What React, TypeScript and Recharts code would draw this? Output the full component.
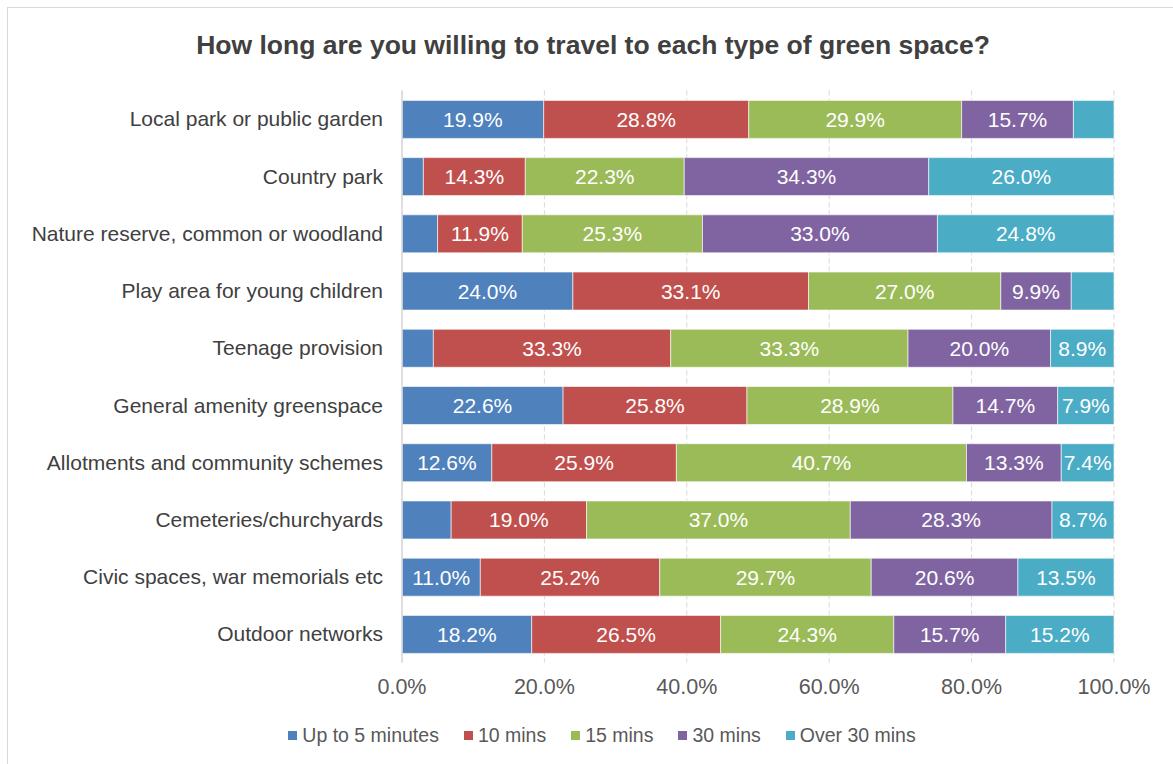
import React from "react";
import { BarChart, Bar, XAxis, YAxis, CartesianGrid, LabelList } from "recharts";

const categories = [
  "Local park or public garden",
  "Country park",
  "Nature reserve, common or woodland",
  "Play area for young children",
  "Teenage provision",
  "General amenity greenspace",
  "Allotments and community schemes",
  "Cemeteries/churchyards",
  "Civic spaces, war memorials etc",
  "Outdoor networks",
];

const upTo5 = [19.9, 3.0, 5.0, 24.0, 4.4, 22.6, 12.6, 6.9, 11.0, 18.2];
const mins10 = [28.8, 14.3, 11.9, 33.1, 33.3, 25.8, 25.9, 19.0, 25.2, 26.5];
const mins15 = [29.9, 22.3, 25.3, 27.0, 33.3, 28.9, 40.7, 37.0, 29.7, 24.3];
const mins30 = [15.7, 34.3, 33.0, 9.9, 20.0, 14.7, 13.3, 28.3, 20.6, 15.7];
const over30 = [5.7, 26.0, 24.8, 6.0, 8.9, 7.9, 7.4, 8.7, 13.5, 15.2];

const xTicks = [0, 0.2, 0.4, 0.6, 0.8, 1];

const seriesNames = ["Up to 5 minutes", "10 mins", "15 mins", "30 mins", "Over 30 mins"];
const seriesKeys = ["a", "b", "c", "d", "e"];
const seriesColors = ["#4F81BD", "#C0504D", "#9BBB59", "#8064A2", "#4BACC6"];

const data = categories.map((name, i) => ({
  name,
  a: upTo5[i],
  b: mins10[i],
  c: mins15[i],
  d: mins30[i],
  e: over30[i],
}));

const FONT = "'Liberation Sans', Arial, sans-serif";

const fmtLabel = (v: any) => (typeof v === "number" && v >= 7 ? `${v.toFixed(1)}%` : "");

export default function App() {
  return (
    <div
      style={{
        position: "fixed",
        left: 7,
        top: 7,
        width: 1200,
        height: 800,
        border: "1px solid #d9d9d9",
        boxSizing: "border-box",
        background: "#fff",
        fontFamily: FONT,
      }}
    >
      <div
        style={{
          position: "absolute",
          left: 0,
          top: 22,
          width: 1170,
          textAlign: "center",
          fontSize: 26.5,
          lineHeight: "30px",
          fontWeight: "bold",
          color: "#404040",
        }}
      >
        How long are you willing to travel to each type of green space?
      </div>
      <div style={{ position: "absolute", left: 0, top: 0 }}>
        <BarChart
          width={1170}
          height={756}
          data={data}
          layout="vertical"
          stackOffset="expand"
          barSize={38}
          margin={{ top: 82.4, right: 64, bottom: 61.4, left: 0 }}
        >
          <CartesianGrid horizontal={false} stroke="#d9d9d9" strokeDasharray="5 3" />
          <XAxis
            type="number"
            domain={[0, 1]}
            ticks={xTicks}
            tickFormatter={(v: number) => `${(v * 100).toFixed(1)}%`}
            axisLine={false}
            tickLine={false}
            tickSize={0}
            tickMargin={16}
            height={40}
            tick={{ fill: "#595959", fontSize: 21.5, fontFamily: FONT }}
          />
          <YAxis
            type="category"
            dataKey="name"
            width={394}
            axisLine={{ stroke: "#d9d9d9", strokeWidth: 1.5 }}
            tickLine={false}
            tickSize={0}
            tickMargin={19}
            interval={0}
            tick={{ fill: "#404040", fontSize: 21, fontFamily: FONT }}
          />
          {seriesKeys.map((k, i) => (
            <Bar
              key={k}
              dataKey={k}
              name={seriesNames[i]}
              stackId="s"
              fill={seriesColors[i]}
              stroke="#ffffff"
              strokeWidth={0.6}
              isAnimationActive={false}
            >
              <LabelList
                dataKey={k}
                position="center"
                formatter={fmtLabel}
                fill="#ffffff"
                fontSize={21}
                fontFamily={FONT}
              />
            </Bar>
          ))}
        </BarChart>
      </div>
      <div
        style={{
          position: "absolute",
          left: 0,
          top: 715,
          width: 1188,
          height: 24,
          display: "flex",
          justifyContent: "center",
          alignItems: "center",
          fontSize: 19.5,
          color: "#595959",
        }}
      >
        {seriesNames.map((n, i) => (
          <div key={n} style={{ display: "flex", alignItems: "center", marginRight: i < 4 ? 25 : 0 }}>
            <span
              style={{
                display: "inline-block",
                width: 9,
                height: 9,
                background: seriesColors[i],
                marginRight: 5,
              }}
            />
            <span>{n}</span>
          </div>
        ))}
      </div>
    </div>
  );
}
